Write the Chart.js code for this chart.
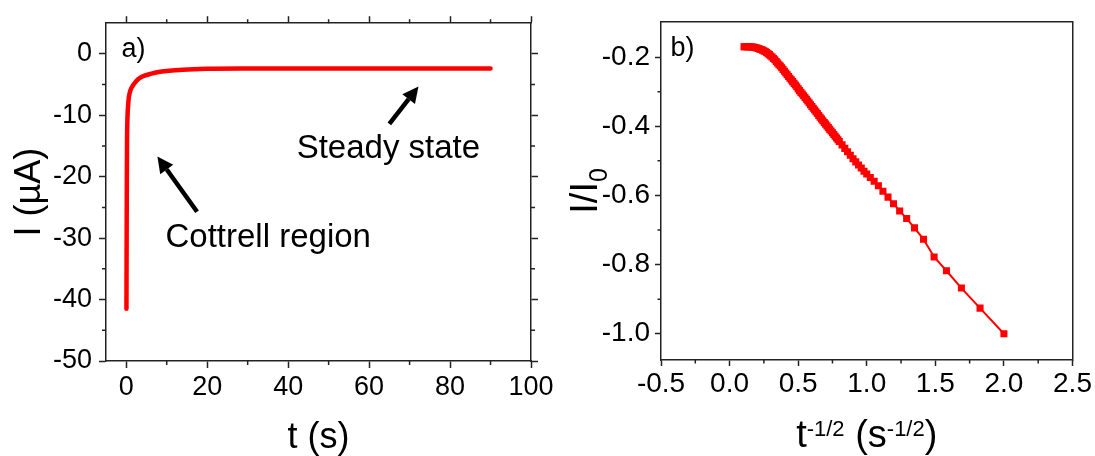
<!DOCTYPE html>
<html>
<head>
<meta charset="utf-8">
<script src="https://cdn.jsdelivr.net/npm/chart.js@4"></script>
<style>
	body { margin: 0; background: #fff; width: 1095px; height: 456px; overflow: hidden; }
	.panel { position: absolute; top: 0; }
</style>
</head>
<body>
<div class="panel" style="left:0"><canvas id="chartA" width="560" height="456"></canvas></div>
<div class="panel" style="left:560px"><canvas id="chartB" width="535" height="456"></canvas></div>
<script>
// panel a) current transient
const timeS = [0.05, 0.1, 0.15, 0.2, 0.3, 0.4, 0.6, 0.8, 1.0, 1.4, 1.8, 2.5, 3.4, 4.5, 6, 8, 10, 14, 20, 30, 45, 60, 75, 90];
const currentUA = [-41.5, -30, -20, -14, -10.5, -9, -7.3, -6.5, -6.0, -5.4, -5.0, -4.4, -3.9, -3.55, -3.25, -2.95, -2.78, -2.56, -2.42, -2.37, -2.36, -2.36, -2.37, -2.38];
const xTicksA = [0, 20, 40, 60, 80, 100];
const xMinorA = [10, 30, 50, 70, 90];
const yTicksA = [0, -10, -20, -30, -40, -50];
const yMinorA = [-5, -15, -25, -35, -45];

// panel b) normalised current vs t^-1/2
const invSqrtT = [
	0.105, 0.11, 0.12, 0.13, 0.14, 0.15, 0.16, 0.17, 0.18, 0.19,
	0.20, 0.21, 0.22, 0.23, 0.24, 0.25, 0.26, 0.27, 0.28, 0.29,
	0.30, 0.31, 0.32, 0.33, 0.34, 0.35, 0.36, 0.37, 0.38, 0.39,
	0.40, 0.41, 0.42, 0.43, 0.44, 0.45, 0.46, 0.47, 0.48, 0.49,
	0.50, 0.51, 0.52, 0.53, 0.54, 0.55, 0.56, 0.57, 0.58, 0.59,
	0.60, 0.61, 0.62, 0.63, 0.64, 0.65, 0.66, 0.67, 0.68, 0.69,
	0.70, 0.71, 0.72, 0.73, 0.74, 0.75, 0.76, 0.77, 0.78, 0.79,
	0.80, 0.82, 0.84, 0.86, 0.88, 0.90, 0.92, 0.94, 0.96, 0.98,
	1.000, 1.026, 1.054, 1.085, 1.118, 1.155, 1.195, 1.240, 1.291, 1.348,
	1.414, 1.491, 1.581, 1.690, 1.826, 2.000,
];
const normCurrent = [
	-0.170, -0.170, -0.170, -0.170, -0.170, -0.170, -0.171, -0.171, -0.172, -0.173,
	-0.174, -0.175, -0.177, -0.178, -0.180, -0.182, -0.184, -0.187, -0.190, -0.193,
	-0.197, -0.200, -0.204, -0.208, -0.213, -0.217, -0.222, -0.226, -0.231, -0.236,
	-0.241, -0.246, -0.251, -0.256, -0.261, -0.266, -0.271, -0.276, -0.281, -0.286,
	-0.292, -0.297, -0.302, -0.307, -0.312, -0.317, -0.322, -0.327, -0.332, -0.338,
	-0.343, -0.348, -0.353, -0.358, -0.363, -0.369, -0.374, -0.379, -0.384, -0.389,
	-0.394, -0.399, -0.404, -0.409, -0.414, -0.419, -0.424, -0.429, -0.434, -0.439,
	-0.444, -0.454, -0.464, -0.474, -0.484, -0.494, -0.503, -0.512, -0.521, -0.530,
	-0.538, -0.548, -0.559, -0.572, -0.588, -0.605, -0.624, -0.645, -0.667, -0.694,
	-0.727, -0.778, -0.818, -0.868, -0.926, -1.000,
];
const xTicksB = [-0.5, 0, 0.5, 1, 1.5, 2, 2.5];
const xMinorB = [-0.25, 0.25, 0.75, 1.25, 1.75, 2.25];
const yTicksB = [-0.2, -0.4, -0.6, -0.8, -1.0];
const yMinorB = [-0.3, -0.5, -0.7, -0.9];

const fontFam = '"Liberation Sans", Arial, sans-serif';
const frameColor = "#222";
const red = "#ff0000";

Chart.defaults.font.family = fontFam;
Chart.defaults.color = "#000";

function makeAxis(position, min, max, ticks, size, o) {
	const horiz = position === "top" || position === "bottom";
	return {
		type: "linear",
		position: position,
		axis: horiz ? "x" : "y",
		min: min,
		max: max,
		afterBuildTicks: (scale) => {
			scale.ticks = ticks.map((v) => ({ value: v }));
		},
		afterFit: (scale) => {
			if (horiz) scale.height = size;
			else scale.width = size;
		},
		grid: {
			display: true,
			drawOnChartArea: false,
			drawTicks: o.tickLength > 0,
			tickLength: o.tickLength,
			tickWidth: 1.5,
			tickColor: frameColor,
		},
		border: { display: true, color: frameColor, width: 1.5 },
		ticks: {
			display: !!o.labels,
			padding: o.padding || 0,
			color: "#000",
			font: { size: o.fontSize || 27 },
			callback: o.format || ((v) => String(v)),
		},
		title: o.title || { display: false },
	};
}

// minor ticks, drawn through the chart's own scales
const minorTicks = {
	id: "minorTicks",
	afterDraw(chart, args, opts) {
		const { ctx, chartArea: a, scales } = chart;
		const len = opts.len;
		ctx.save();
		ctx.strokeStyle = frameColor;
		ctx.lineWidth = 1.5;
		ctx.beginPath();
		(opts.x || []).forEach((v) => {
			const px = scales.x.getPixelForValue(v);
			ctx.moveTo(px, a.bottom);
			ctx.lineTo(px, a.bottom + len);
			if (opts.mirror) {
				ctx.moveTo(px, a.top);
				ctx.lineTo(px, a.top - len);
			}
		});
		(opts.y || []).forEach((v) => {
			const py = scales.y.getPixelForValue(v);
			ctx.moveTo(a.left, py);
			ctx.lineTo(a.left - len, py);
			if (opts.mirror) {
				ctx.moveTo(a.right, py);
				ctx.lineTo(a.right + len, py);
			}
		});
		ctx.stroke();
		ctx.restore();
	},
};

// panel letters, annotation text and arrows (placed in data units)
const notes = {
	id: "notes",
	afterDatasetsDraw(chart, args, opts) {
		const { ctx, scales } = chart;
		const x = scales.x, y = scales.y;
		ctx.save();
		(opts.arrows || []).forEach((ar) => {
			const x0 = x.getPixelForValue(ar.from[0]), y0 = y.getPixelForValue(ar.from[1]);
			const x1 = x.getPixelForValue(ar.to[0]), y1 = y.getPixelForValue(ar.to[1]);
			const ang = Math.atan2(y1 - y0, x1 - x0);
			const head = 16, half = 8;
			const bx = x1 - head * Math.cos(ang), by = y1 - head * Math.sin(ang);
			ctx.strokeStyle = "#000";
			ctx.lineWidth = 4.5;
			ctx.beginPath();
			ctx.moveTo(x0, y0);
			ctx.lineTo(bx, by);
			ctx.stroke();
			ctx.fillStyle = "#000";
			ctx.beginPath();
			ctx.moveTo(x1, y1);
			ctx.lineTo(bx + half * Math.sin(ang), by - half * Math.cos(ang));
			ctx.lineTo(bx - half * Math.sin(ang), by + half * Math.cos(ang));
			ctx.closePath();
			ctx.fill();
		});
		(opts.texts || []).forEach((t) => {
			ctx.font = `${t.size}px ${fontFam}`;
			ctx.fillStyle = "#000";
			ctx.textAlign = "left";
			ctx.textBaseline = "alphabetic";
			ctx.fillText(t.text, x.getPixelForValue(t.at[0]), y.getPixelForValue(t.at[1]));
		});
		ctx.restore();
	},
};

// axis titles with super/subscripts for panel b
function drawRuns(ctx, runs, startX) {
	let cx = startX;
	runs.forEach((r) => {
		ctx.font = `${r.size}px ${fontFam}`;
		ctx.fillText(r.text, cx, r.shift);
		cx += ctx.measureText(r.text).width;
	});
}
function runsWidth(ctx, runs) {
	return runs.reduce((w, r) => {
		ctx.font = `${r.size}px ${fontFam}`;
		return w + ctx.measureText(r.text).width;
	}, 0);
}
const richTitles = {
	id: "richTitles",
	afterDraw(chart, args, opts) {
		const { ctx, chartArea: a } = chart;
		ctx.save();
		ctx.fillStyle = "#000";
		ctx.textAlign = "left";
		ctx.textBaseline = "alphabetic";
		// x title
		const xw = runsWidth(ctx, opts.x);
		ctx.translate((a.left + a.right) / 2, a.bottom + opts.xGap);
		drawRuns(ctx, opts.x, -xw / 2);
		ctx.restore();
		ctx.save();
		ctx.fillStyle = "#000";
		ctx.textBaseline = "alphabetic";
		const yw = runsWidth(ctx, opts.y);
		ctx.translate(opts.yBase, (a.top + a.bottom) / 2);
		ctx.rotate(-Math.PI / 2);
		drawRuns(ctx, opts.y, -yw / 2);
		ctx.restore();
	},
};

new Chart(document.getElementById("chartA"), {
	type: "line",
	data: {
		datasets: [
			{
				data: timeS.map((t, i) => ({ x: t, y: currentUA[i] })),
				borderColor: red,
				borderWidth: 4.5,
				borderCapStyle: "round",
				borderJoinStyle: "round",
				cubicInterpolationMode: "monotone",
				pointRadius: 0,
				fill: false,
			},
		],
	},
	options: {
		responsive: false,
		animation: false,
		events: [],
		layout: { padding: { top: 10.3, right: 22, bottom: 0, left: 0 } },
		plugins: {
			legend: { display: false },
			tooltip: { enabled: false },
			minorTicks: { x: xMinorA, y: yMinorA, len: 4, mirror: true },
			notes: {
				texts: [
					{ text: "a)", at: [-1.2, -0.5], size: 27 },
					{ text: "Cottrell region", at: [9.7, -31.4], size: 33 },
					{ text: "Steady state", at: [42.1, -17.0], size: 33 },
				],
				arrows: [
					{ from: [17.5, -25.7], to: [7.7, -16.7] },
					{ from: [65.0, -11.4], to: [72.2, -5.3] },
				],
			},
		},
		scales: {
			x: makeAxis("bottom", -5, 100, xTicksA, 95, {
				tickLength: 7, labels: true, padding: 3,
				title: { display: true, text: "t (s)", color: "#000", font: { size: 36, lineHeight: 1 }, padding: { top: 0, bottom: 0 } },
			}),
			y: makeAxis("left", -50, 5, yTicksA, 106, {
				tickLength: 7, labels: true, padding: 7,
				title: { display: true, text: "I (µA)", color: "#000", font: { size: 36, lineHeight: 1 }, padding: { top: 12, bottom: 0 } },
			}),
			x2: makeAxis("top", -5, 100, xTicksA, 7, { tickLength: 7 }),
			y2: makeAxis("right", -50, 5, yTicksA, 7, { tickLength: 7 }),
		},
	},
	plugins: [minorTicks, notes],
});

new Chart(document.getElementById("chartB"), {
	type: "line",
	data: {
		datasets: [
			{
				data: invSqrtT.map((v, i) => ({ x: v, y: normCurrent[i] })),
				borderColor: red,
				borderWidth: 2,
				pointStyle: "rect",
				pointRadius: 5,
				pointBorderWidth: 0,
				pointBackgroundColor: red,
				fill: false,
			},
		],
	},
	options: {
		responsive: false,
		animation: false,
		events: [],
		layout: { padding: { top: 15.7, right: 22.5, bottom: 0, left: 0 } },
		plugins: {
			legend: { display: false },
			tooltip: { enabled: false },
			minorTicks: { x: xMinorB, y: yMinorB, len: 3.5, mirror: false },
			notes: {
				texts: [{ text: "b)", at: [-0.43, -0.197], size: 27 }],
			},
			richTitles: {
				xGap: 87,
				yBase: 36.5,
				x: [
					{ text: "t", size: 38, shift: 0 },
					{ text: "-1/2", size: 22, shift: -11 },
					{ text: " (s", size: 38, shift: 0 },
					{ text: "-1/2", size: 22, shift: -11 },
					{ text: ")", size: 38, shift: 0 },
				],
				y: [
					{ text: "I/I", size: 38, shift: 0 },
					{ text: "0", size: 25, shift: 10 },
				],
			},
		},
		scales: {
			x: makeAxis("bottom", -0.5, 2.5, xTicksB, 96, {
				tickLength: 6, labels: true, padding: 1, fontSize: 28, format: (v) => v.toFixed(1),
			}),
			y: makeAxis("left", -1.076, -0.098, yTicksB, 101, {
				tickLength: 6, labels: true, padding: 5, fontSize: 28, format: (v) => v.toFixed(1),
			}),
			x2: makeAxis("top", -0.5, 2.5, xTicksB, 0, { tickLength: 0 }),
			y2: makeAxis("right", -1.076, -0.098, yTicksB, 0, { tickLength: 0 }),
		},
	},
	plugins: [minorTicks, notes, richTitles],
});
</script>
</body>
</html>
